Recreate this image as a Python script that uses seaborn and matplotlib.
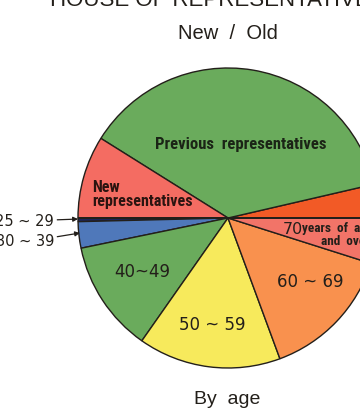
import matplotlib
matplotlib.use("Agg")
import matplotlib.pyplot as plt
import seaborn as sns

sns.set_style("white")
plt.rcParams["font.family"] = ["Liberation Sans", "DejaVu Sans"]

# Composition of the House: upper half by status, lower half by age (seats)
status_labels = ["Former", "Previous representatives", "New representatives"]
status_seats = [37, 383, 91]
age_labels = ["25 ~ 29", "30 ~ 39", "40~49", "50 ~ 59", "60 ~ 69", "70 and over"]
age_seats = [4, 29, 123, 157, 148, 50]

status_colors = ["#f25a26", "#6aab5c", "#f46c62"]
age_colors = ["#1c2558", "#4f78ba", "#6aab5c", "#f7ea5c", "#f9914e", "#f27468"]

INK = "#231f1a"
NARROW = ["Roboto Condensed", "Liberation Sans Narrow", "DejaVu Sans Condensed",
          "Roboto", "DejaVu Sans"]
narrow = dict(family=NARROW, fontstretch="condensed", fontweight="bold")
digits = dict(family=["DejaVu Sans"], color=INK)

fig = plt.figure(figsize=(3.6, 4.09), dpi=100)
W, H = 360, 409
cx, cy, r = 228, 218, 150
ax = fig.add_axes([(cx - r) / W, (H - cy - r) / H, 2 * r / W, 2 * r / H])

ax.pie(status_seats + age_seats,
       colors=status_colors + age_colors,
       startangle=0, counterclock=True, radius=1.0,
       wedgeprops=dict(edgecolor=INK, linewidth=1.0))
ax.plot([-1, 1], [0, 0], color=INK, lw=1.4, solid_capstyle="butt")
ax.set_xlim(-1, 1)
ax.set_ylim(-1, 1)
ax.set_aspect("equal")
ax.axis("off")

# wedge labels
ax.text(0.087, 0.487, "Previous  representatives", ha="center", va="center",
        fontsize=12, color="#1b2416", **narrow)
ax.text(-0.907, 0.157, "New\nrepresentatives", ha="left", va="center",
        fontsize=11.5, color="#2a1410", linespacing=0.9, **narrow)
ax.text(-0.573, -0.36, age_labels[2], ha="center", va="center",
        fontsize=12, **digits)
ax.text(-0.107, -0.713, age_labels[3], ha="center", va="center",
        fontsize=12, **digits)
ax.text(0.547, -0.427, age_labels[4], ha="center", va="center",
        fontsize=12, **digits)
ax.text(0.43, -0.075, "70", ha="center", va="center", fontsize=11.5, **digits)
ax.text(0.49, -0.07, "years  of  age", ha="left", va="center",
        fontsize=9.5, color=INK, **narrow)
ax.text(0.78, -0.155, "and  over", ha="center", va="center",
        fontsize=9.5, color=INK, **narrow)

# callouts for the thin slices on the left
arrow = dict(arrowstyle="-|>", color=INK, lw=0.9, mutation_scale=7,
             shrinkA=0, shrinkB=0)
ax.annotate(age_labels[0], xy=(-1.0, -0.007), xytext=(-1.16, -0.02),
            ha="right", va="center", fontsize=10.5, **digits,
            arrowprops=arrow, annotation_clip=False)
ax.annotate(age_labels[1], xy=(-0.987, -0.10), xytext=(-1.16, -0.16),
            ha="right", va="center", fontsize=10.5, **digits,
            arrowprops=arrow, annotation_clip=False)

# headings
fig.text(50 / W, 1 - 6 / H, "HOUSE OF REPRESENTATIVES", ha="left",
         va="baseline", fontsize=16, color=INK)
fig.text(0.633, 1 - 33.5 / H, "New  /  Old", ha="center", va="center",
         fontsize=14.5, color=INK)
fig.text(0.631, 1 - 400 / H, "By  age", ha="center", va="center",
         fontsize=14, color=INK)

fig.savefig("out.png", dpi=100, facecolor="white")
